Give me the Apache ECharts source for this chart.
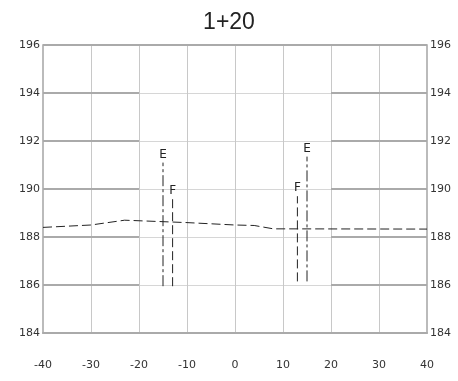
<!DOCTYPE html>
<html>
<head>
<meta charset="utf-8">
<script src="https://cdn.jsdelivr.net/npm/echarts@6/dist/echarts.min.js"></script>
<style>html,body{margin:0;padding:0;background:#fff}#c{width:458px;height:381px}</style>
</head>
<body>
<div id="c"></div>
<script>
var titleText = '1+20';
var xTicks = [-40, -30, -20, -10, 0, 10, 20, 30, 40];
var yTicks = [184, 186, 188, 190, 192, 194, 196];
var groundX = [-40, -30, -23, -10, 0, 4, 8, 40];
var groundY = [188.40, 188.50, 188.70, 188.60, 188.50, 188.48, 188.34, 188.33];
var markerNames = ['E', 'F', 'F', 'E'];
var markerX = [-15, -13, 13, 15];
var markerBottom = [185.95, 185.95, 186.15, 186.15];
var markerTop = [191.1, 189.6, 189.7, 191.35];

var font = 'DejaVu Sans';
var series = [];
var segs = [];
yTicks.forEach(function (y) {
  segs.push([{coord: [xTicks[0], y]}, {coord: [xTicks[2], y]}]);
  segs.push([{coord: [xTicks[6], y]}, {coord: [xTicks[8], y]}]);
});
segs.push([{coord: [xTicks[0], yTicks[yTicks.length-1]]}, {coord: [xTicks[8], yTicks[yTicks.length-1]]}]);
series.push({
  type: 'line', data: [], silent: true,
  markLine: {silent: true, symbol: 'none', label: {show: false},
    lineStyle: {color: '#aaaaaa', width: 2, type: 'solid'}, data: segs}
});
series.push({
  type: 'line', symbol: 'none', silent: true,
  data: groundX.map(function (x, i) { return [x, groundY[i]]; }),
  lineStyle: {color: '#222', width: 1, type: [9, 4]}
});
markerNames.forEach(function (n, i) {
  series.push({
    type: 'line', symbol: 'circle', symbolSize: 0, showSymbol: true, silent: true,
    data: [{value: [markerX[i], markerBottom[i]], label: {show: false}},
      {value: [markerX[i], markerTop[i]],
      label: {show: true, position: 'top', distance: 2, formatter: n, color: '#222', fontSize: 12, fontFamily: font}}],
    label: {show: false},
    lineStyle: {color: '#222', width: 1, type: n === 'E' ? [11, 3, 3, 3] : [9, 4]}
  });
});

var yAxisBase = function (pos) {
  return {
    type: 'value', position: pos, min: 184, max: 196, interval: 2,
    axisLine: {show: true, onZero: false, lineStyle: {color: '#bbbbbb', width: 2}},
    axisTick: {show: false},
    splitLine: {show: pos === 'left', lineStyle: {color: '#d6d6d6', width: 1}},
    axisLabel: {color: '#333', fontSize: 11, fontFamily: font, margin: 3,
      formatter: function (v) { return yTicks.indexOf(v) >= 0 ? String(v) : ''; }}
  };
};

var chart = echarts.init(document.getElementById('c'));
chart.setOption({
  animation: false,
  title: {text: titleText, left: 'center', top: 6,
    textStyle: {fontFamily: 'Liberation Sans', fontSize: 23, fontWeight: 'normal', color: '#222'}},
  grid: {left: 43, right: 31, top: 45, bottom: 48},
  xAxis: {
    type: 'value', min: -40, max: 40, interval: 10,
    axisLine: {show: true, onZero: false, lineStyle: {color: '#aaaaaa', width: 2}},
    axisTick: {show: false},
    splitLine: {show: true, lineStyle: {color: '#c8c8c8', width: 1}},
    axisLabel: {color: '#333', fontSize: 11, fontFamily: font, margin: 27,
      formatter: function (v) { return xTicks.indexOf(v) >= 0 ? String(v) : ''; }}
  },
  yAxis: [yAxisBase('left'), yAxisBase('right')],
  series: series
});
</script>
</body>
</html>
